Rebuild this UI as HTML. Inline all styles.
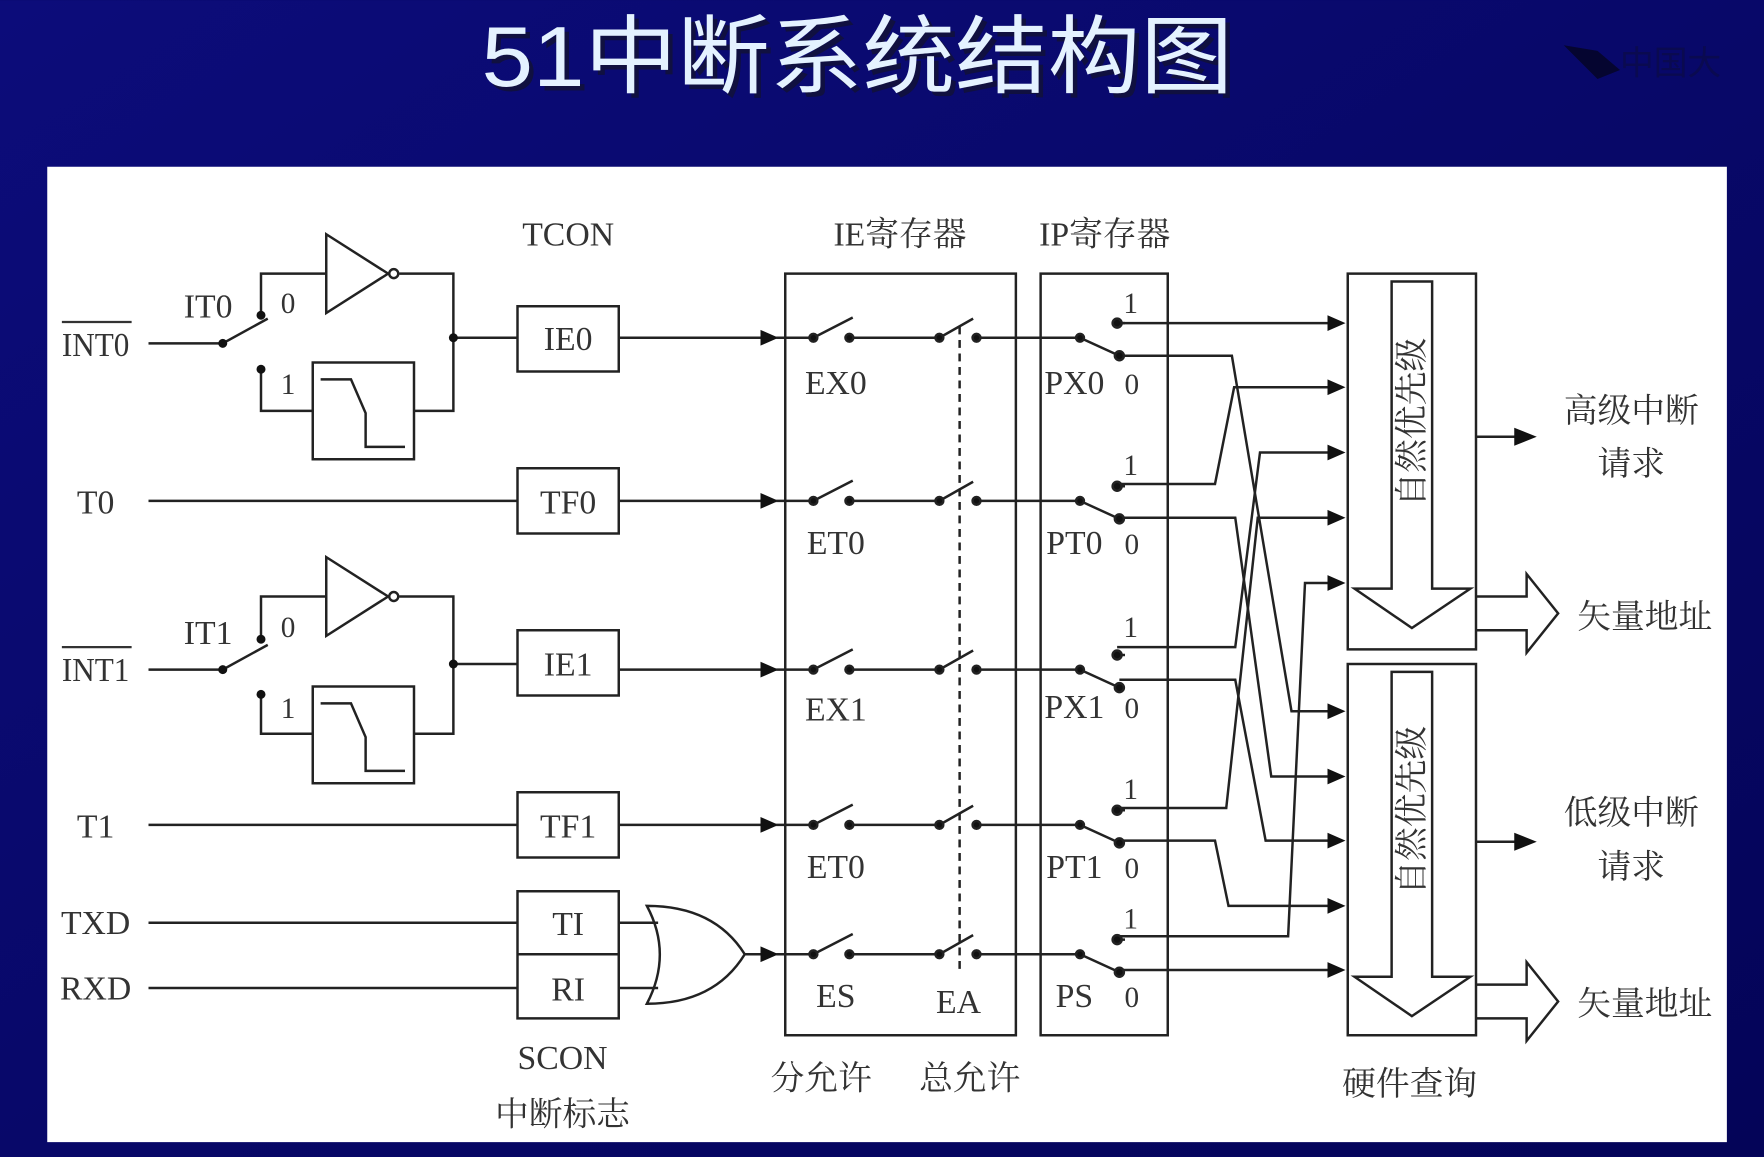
<!DOCTYPE html>
<html><head><meta charset="utf-8"><style>
html,body{margin:0;padding:0;width:1764px;height:1157px;overflow:hidden;background:#07076a;}
svg{display:block}
</style></head><body>
<svg width="1764" height="1157" viewBox="0 0 1568 1028" xmlns="http://www.w3.org/2000/svg">
<defs>
<linearGradient id="bg" x1="0" y1="0" x2="1" y2="1"><stop offset="0" stop-color="#0c0c7a"/><stop offset="1" stop-color="#040458"/></linearGradient>
</defs>
<rect width="1568" height="1028" fill="url(#bg)"/>
<text x="432" y="80" textLength="668" lengthAdjust="spacingAndGlyphs" font-family="Liberation Sans,'Noto Sans CJK SC',sans-serif" font-size="76" fill="#101040">51中断系统结构图</text>
<text x="428" y="76" textLength="668" lengthAdjust="spacingAndGlyphs" font-family="Liberation Sans,'Noto Sans CJK SC',sans-serif" font-size="76" fill="#e4f2ff">51中断系统结构图</text>
<path d="M1390,40 L1420,45 L1440,62 L1420,70 Z" fill="#050530"/>
<text x="1440" y="66" font-family="Liberation Sans,'Noto Sans CJK SC',sans-serif" font-size="30" fill="#0a0a50">中国大</text>
<rect x="42" y="148" width="1493" height="867" fill="#fff"/>
<g stroke="#222" stroke-width="2.2" fill="none" font-family="Liberation Serif,'Noto Serif CJK SC',serif">
<path d="M132,305 H198 L238,283 M232,280 V243 H290 M355,243 H403 V365 H368 M232,328 V365 H278 M403,300 H460 M550,300 H690"/>
<path d="M290,208 L345,243 L290,278 Z"/><circle cx="350" cy="243" r="4"/>
<rect x="278" y="322" width="90" height="86"/><path d="M285,337 H312 L325,367 V397 H360"/>
<rect x="460" y="272" width="90" height="58"/>
<path d="M132,595 H198 L238,573 M232,568 V530 H290 M355,530 H403 V652 H368 M232,617 V652 H278 M403,590 H460 M550,595 H690"/>
<path d="M290,495 L345,530 L290,565 Z"/><circle cx="350" cy="530" r="4"/>
<rect x="278" y="610" width="90" height="86"/><path d="M285,625 H312 L325,655 V685 H360"/>
<rect x="460" y="560" width="90" height="58"/>
<path d="M132,445 H460 M550,445 H690 M132,733 H460 M550,733 H690"/>
<rect x="460" y="416" width="90" height="58"/><rect x="460" y="704" width="90" height="58"/>
<path d="M132,820 H460 M132,878 H460 M550,820 H585 M550,878 H585 M662,848 H690"/>
<rect x="460" y="792" width="90" height="113"/><path d="M460,848 H550"/>
<path d="M575,805 Q635,805 662,848 Q635,892 575,892 Q598,848 575,805 Z"/>
<rect x="698" y="243" width="205" height="677"/>
<rect x="925" y="243" width="113" height="677"/>
<path d="M853,290 V865" stroke-dasharray="7,5"/>
<rect x="1198" y="243" width="114" height="334"/>
<path d="M1237,250 H1273 V523 H1307 L1255,558 L1204,523 H1237 Z"/>
<rect x="1198" y="590" width="114" height="330"/>
<path d="M1237,597 H1273 V868 H1307 L1255,903 L1204,868 H1237 Z"/>
<path d="M1312,388 H1348 M1312,748 H1348"/>
<path d="M1312,530 H1357 V510 L1385,545 L1357,580 V560 H1312"/>
<path d="M1312,875 H1357 V855 L1385,890 L1357,925 V905 H1312"/>
<path d="M993,287 H1180"/>
<path d="M995,316 H1095 L1148,632 H1180"/>
<path d="M993,430 H1080 L1097,344 H1180"/>
<path d="M995,460 H1098 L1130,690 H1180"/>
<path d="M993,575 H1098 L1120,402 H1180"/>
<path d="M995,604 H1098 L1125,747 H1180"/>
<path d="M993,718 H1090 L1118,460 H1180"/>
<path d="M995,747 H1080 L1092,805 H1180"/>
<path d="M993,832 H1145 L1160,518 H1180"/>
<path d="M995,862 H1180"/>
</g>
<g fill="#111">
<path d="M676,293 L692,300 L676,307Z M676,438 L692,445 L676,452Z M676,588 L692,595 L676,602Z M676,726 L692,733 L676,740Z M676,841 L692,848 L676,855Z"/>
<path d="M1180,280 L1196,287 L1180,294Z M1180,337 L1196,344 L1180,351Z M1180,395 L1196,402 L1180,409Z M1180,453 L1196,460 L1180,467Z M1180,511 L1196,518 L1180,525Z M1180,625 L1196,632 L1180,639Z M1180,683 L1196,690 L1180,697Z M1180,740 L1196,747 L1180,754Z M1180,798 L1196,805 L1180,812Z M1180,855 L1196,862 L1180,869Z"/>
<path d="M1346,380 L1366,388 L1346,396Z M1346,740 L1366,748 L1346,756Z"/>
<circle cx="198" cy="305" r="4"/><circle cx="232" cy="280" r="4"/><circle cx="232" cy="328" r="4"/><circle cx="403" cy="300" r="4"/>
<circle cx="198" cy="595" r="4"/><circle cx="232" cy="568" r="4"/><circle cx="232" cy="617" r="4"/><circle cx="403" cy="590" r="4"/>
</g>
<g stroke="#222" stroke-width="2.2" fill="#111">
<g id="r0"><path d="M690,300 H723 M723,300 L758,282 M755,300 H835 M835,300 L865,283 M868,300 H960 L995,316 M993,287 H1000" fill="none"/><circle cx="723" cy="300" r="3.5"/><circle cx="755" cy="300" r="3.5"/><circle cx="835" cy="300" r="3.5"/><circle cx="868" cy="300" r="3.5"/><circle cx="960" cy="300" r="3.5"/><circle cx="995" cy="316" r="4"/><circle cx="993" cy="287" r="4"/></g>
<use href="#r0" y="145"/><use href="#r0" y="295"/><use href="#r0" y="433"/><use href="#r0" y="548"/>
</g>
<g font-family="Liberation Serif,'Noto Serif CJK SC',serif" font-size="30" fill="#333" text-anchor="middle">
<text x="85" y="316" textLength="60" lengthAdjust="spacingAndGlyphs">INT0</text><path d="M55,286 H117" stroke="#333" stroke-width="2"/>
<text x="85" y="456">T0</text>
<text x="85" y="605" textLength="60" lengthAdjust="spacingAndGlyphs">INT1</text><path d="M55,575 H117" stroke="#333" stroke-width="2"/>
<text x="85" y="744">T1</text>
<text x="85" y="830">TXD</text><text x="85" y="888">RXD</text>
<text x="185" y="282">IT0</text><text x="256" y="278" font-size="26">0</text><text x="256" y="350" font-size="26">1</text>
<text x="185" y="572">IT1</text><text x="256" y="566" font-size="26">0</text><text x="256" y="638" font-size="26">1</text>
<text x="505" y="311">IE0</text><text x="505" y="456">TF0</text><text x="505" y="600">IE1</text><text x="505" y="744">TF1</text>
<text x="505" y="831">TI</text><text x="505" y="889">RI</text>
<text x="505" y="218">TCON</text><text x="800" y="218">IE寄存器</text><text x="982" y="218">IP寄存器</text>
<text x="743" y="350">EX0</text><text x="743" y="492">ET0</text><text x="743" y="640">EX1</text><text x="743" y="780">ET0</text><text x="743" y="895">ES</text><text x="852" y="900">EA</text>
<text x="955" y="350">PX0</text><text x="955" y="492">PT0</text><text x="955" y="638">PX1</text><text x="955" y="780">PT1</text><text x="955" y="895">PS</text>
<g font-size="26"><text x="1006" y="350">0</text><text x="1006" y="492">0</text><text x="1006" y="638">0</text><text x="1006" y="780">0</text><text x="1006" y="895">0</text>
<text x="1005" y="278">1</text><text x="1005" y="422">1</text><text x="1005" y="566">1</text><text x="1005" y="710">1</text><text x="1005" y="825">1</text></g>
<text x="500" y="950">SCON</text><text x="500" y="1000">中断标志</text>
<text x="730" y="968">分允许</text><text x="862" y="968">总允许</text><text x="1253" y="973">硬件查询</text>
<text x="1450" y="375">高级中断</text><text x="1450" y="422">请求</text><text x="1462" y="558">矢量地址</text>
<text x="1450" y="732">低级中断</text><text x="1450" y="780">请求</text><text x="1462" y="902">矢量地址</text>
<text transform="translate(1265,375) rotate(-90)" font-size="30">自然优先级</text>
<text transform="translate(1265,720) rotate(-90)" font-size="30">自然优先级</text>
</g>
</svg>
</body></html>
